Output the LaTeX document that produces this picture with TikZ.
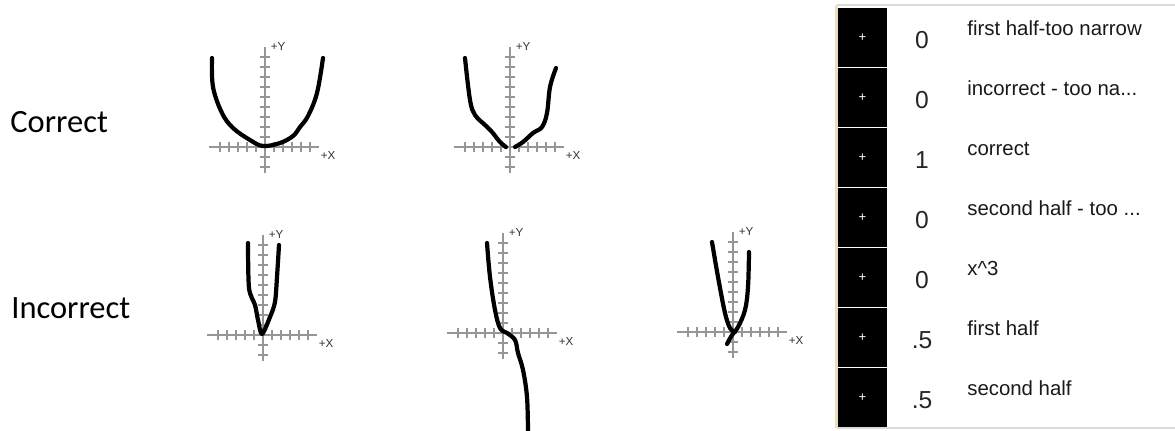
\documentclass[tikz,border=0pt]{standalone}
\usepackage{fontspec}
\setmainfont{Liberation Sans}
\newfontfamily\rowfont{Carlito}
\usetikzlibrary{positioning}
\definecolor{axisgray}{RGB}{150,150,150}
\definecolor{paneledge}{RGB}{238,222,190}
\definecolor{rulegray}{RGB}{218,218,218}
\newcommand{\trail}{...}

% axes with crossed ticks, #1 = origin, #2 = name prefix
\newcommand{\drawaxes}[2]{%
  \begin{scope}[shift={#1}]
    \draw[axisline] (-56,0) -- (54,0);
    \draw[axisline] (0,-100) -- (0,26);
    \foreach \k in {-5,-4,-3,-2,-1,1,2,3,4,5}
      \draw[axisline] (9*\k,-5) -- (9*\k,5);
    \foreach \k in {1,2,3,4,5,6,7,8,9}
      \draw[axisline] (-5,-10*\k) -- (5,-10*\k);
    \foreach \k in {1,2}
      \draw[axisline] (-5,10*\k) -- (5,10*\k);
    \node[axlabel] (#2y) at (13,-100) {+Y};
    \node[axlabel] (#2x) at (63,9) {+X};
  \end{scope}}

\begin{document}
\begin{tikzpicture}[x=0.02cm, y=-0.02cm,
  axisline/.style={draw=axisgray, line width=0.9pt},
  curve/.style={line width=2.4pt, line cap=round, line join=round},
  axlabel/.style={font=\fontsize{6.6}{7}\selectfont, text=black!80, inner sep=0pt},
  rowlabel/.style={font=\rowfont\fontsize{18.5}{20}\selectfont, anchor=base west, inner sep=0pt},
  btn/.style={fill=black, text=white, minimum width=0.98cm, minimum height=1.18cm,
              inner sep=0pt, font=\fontsize{7.5}{8}\selectfont},
  score/.style={font=\fontsize{14}{16}\selectfont, text=black!85, anchor=base, inner sep=0pt},
  reason/.style={font=\fontsize{11.6}{13}\selectfont, text=black!90, anchor=base west, inner sep=0pt}
]
\useasboundingbox (0,0) rectangle (1175,430);

% row labels
\node[rowlabel] (correct) at (10,132) {Correct};
\node[rowlabel] (incorrect) at (11,318) {Incorrect};

% graphs
\drawaxes{(265,147)}{ga}
\drawaxes{(510,147)}{gb}
\drawaxes{(263,335)}{gc}
\drawaxes{(503,333)}{gd}
\drawaxes{(733,332)}{ge}

\draw[curve] plot[smooth, tension=0.6] coordinates {(212,58) (213,87) (222,113)
  (233,128) (250,140) (263,146) (280,143) (293,136) (300,127) (308,116) (317,93) (323,58)};
\draw[curve] plot[smooth, tension=0.6] coordinates {(465,58) (470,100) (475,115)
  (485,125) (492,132) (500,142) (506,147)};
\draw[curve] plot[smooth, tension=0.6] coordinates {(515,147) (523,142) (533,133)
  (542,127) (547,113) (550,87) (556,68)};
\draw[curve] plot[smooth, tension=0.5] coordinates {(248,243) (249,288) (255,305)
  (258,320) (262,334) (270,317) (275,302) (277,277) (279,245)};
\draw[curve] plot[smooth, tension=0.6] coordinates {(487,243) (490,277) (495,310)
  (500,328) (507,333) (515,340) (518,353) (523,370) (527,397) (528,432)};
\draw[curve] plot[smooth, tension=0.6] coordinates {(712,242) (718,277) (725,313)
  (730,328) (735,332)};
\draw[curve] plot[smooth, tension=0.6] coordinates {(727,344) (732,335) (738,327)
  (745,310) (748,287) (749,252)};

% score panel
\draw[rulegray, line width=0.6pt] (837,5) -- (1175,5);
\draw[rulegray, line width=0.6pt] (837,428) -- (1175,428);
\fill[paneledge] (835,5) rectangle (838,428);
\foreach \v/\t [count=\i from 0] in {0/first half-too narrow, 0/incorrect - too na\trail,
    1/correct, 0/second half - too \trail, 0/x\textasciicircum 3, .5/first half, .5/second half} {
  \node[btn] (btn\i) at (862.5,37.5+60*\i) {+};
  \node[score] (val\i) at (922,48+60*\i) {\v};
  \node[reason] (txt\i) at (967,35+60*\i) {\t};
}
\end{tikzpicture}
\end{document}
